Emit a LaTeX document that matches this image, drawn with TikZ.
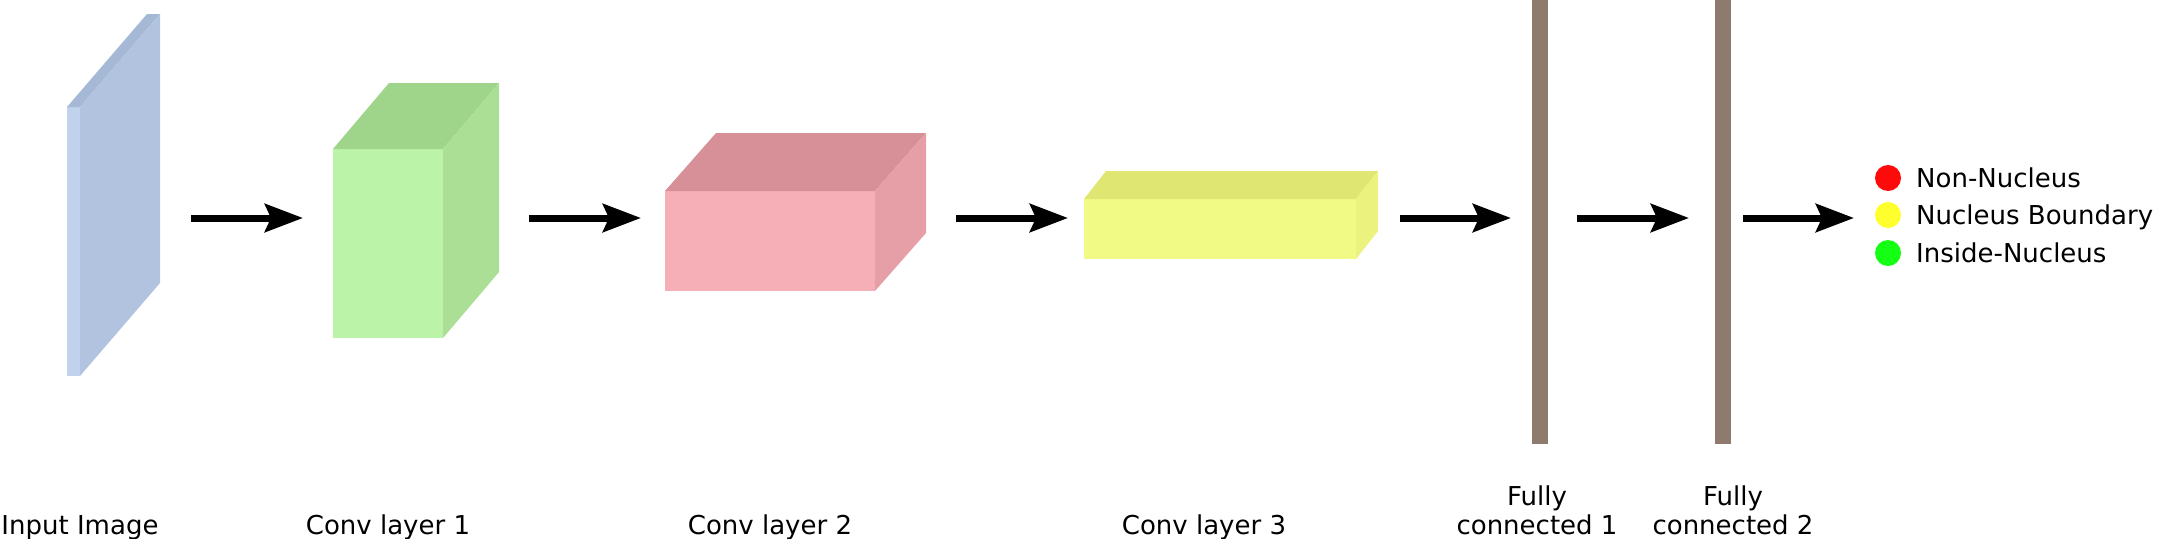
\documentclass[tikz,border=0pt]{standalone}
\usepackage{fontspec}
\setmainfont{DejaVu Sans}
\usetikzlibrary{arrows.meta}

\definecolor{inFront}{HTML}{C0D2EC}
\definecolor{inTop}{HTML}{A5B8D6}
\definecolor{inSide}{HTML}{B1C3DF}
\definecolor{cAFront}{HTML}{BBF3A8}
\definecolor{cATop}{HTML}{9FD48B}
\definecolor{cASide}{HTML}{AADF95}
\definecolor{cBFront}{HTML}{F6AFB6}
\definecolor{cBTop}{HTML}{D79097}
\definecolor{cBSide}{HTML}{E69FA6}
\definecolor{cCFront}{HTML}{F2FA86}
\definecolor{cCTop}{HTML}{E0E672}
\definecolor{cCSide}{HTML}{EBF27E}
\definecolor{fcBar}{HTML}{8F7B6D}
\definecolor{clsRed}{HTML}{FF0A0A}
\definecolor{clsYellow}{HTML}{FFFF2E}
\definecolor{clsGreen}{HTML}{14FF14}

% x, y, width, height, depth x, depth y, front, top, side
\newcommand{\layerbox}[9]{%
    \fill[#7] (#1,#2) rectangle ++(#3,#4);
    \fill[#8] (#1,#2) -- ++(#5,-#6) -- ++(#3,0) -- ++(-#5,#6) -- cycle;
    \fill[#9] (#1+#3,#2) -- ++(#5,-#6) -- ++(0,#4) -- ++(-#5,#6) -- cycle;
}

\tikzset{
    flow/.style={line width=7pt,-{Stealth[length=38pt,width=28pt,inset=6pt]}},
    lbl/.style={font=\fontsize{26}{29}\selectfont,inner sep=0,align=center},
    dot/.style={circle,inner sep=0,minimum size=26pt}
}

\begin{document}
\begin{tikzpicture}[x=1pt,y=-1pt]
    \useasboundingbox (0,0) rectangle (2160,538);

    \layerbox{67}{107}{13}{269}{80}{93}{inFront}{inTop}{inSide}
    \layerbox{333}{149}{110}{189}{56}{66}{cAFront}{cATop}{cASide}
    \layerbox{665}{191}{210}{100}{51}{58}{cBFront}{cBTop}{cBSide}
    \layerbox{1084}{199}{272}{60}{22}{28}{cCFront}{cCTop}{cCSide}

    \fill[fcBar] (1532,0) rectangle (1548,444);
    \fill[fcBar] (1715,0) rectangle (1731,444);

    \foreach \s/\e [count=\i] in {191/303,529/641,956/1068,1400/1511,1577/1689,1743/1854}
    {
        \coordinate (out\i) at (\s,218);
        \coordinate (in\i) at (\e,218);
        \draw[flow] (out\i) -- (in\i);
    }

    \node[lbl,anchor=base] (L_in) at (80,534) {Input Image};
    \node[lbl,anchor=base] (L_c1) at (388,534) {Conv layer 1};
    \node[lbl,anchor=base] (L_c2) at (770,534) {Conv layer 2};
    \node[lbl,anchor=base] (L_c3) at (1204,534) {Conv layer 3};
    \node[lbl,anchor=base] (L_f1) at (1537,534) {Fully\\connected 1};
    \node[lbl,anchor=base] (L_f2) at (1733,534) {Fully\\connected 2};

    \node[dot,fill=clsRed] (D_non) at (1888,178) {};
    \node[dot,fill=clsYellow] (D_bnd) at (1888,215) {};
    \node[dot,fill=clsGreen] (D_ins) at (1888,253) {};
    \node[lbl,anchor=base west] (T_non) at (1916,187) {Non-Nucleus};
    \node[lbl,anchor=base west] (T_bnd) at (1916,224) {Nucleus Boundary};
    \node[lbl,anchor=base west] (T_ins) at (1916,262) {Inside-Nucleus};
\end{tikzpicture}
\end{document}
